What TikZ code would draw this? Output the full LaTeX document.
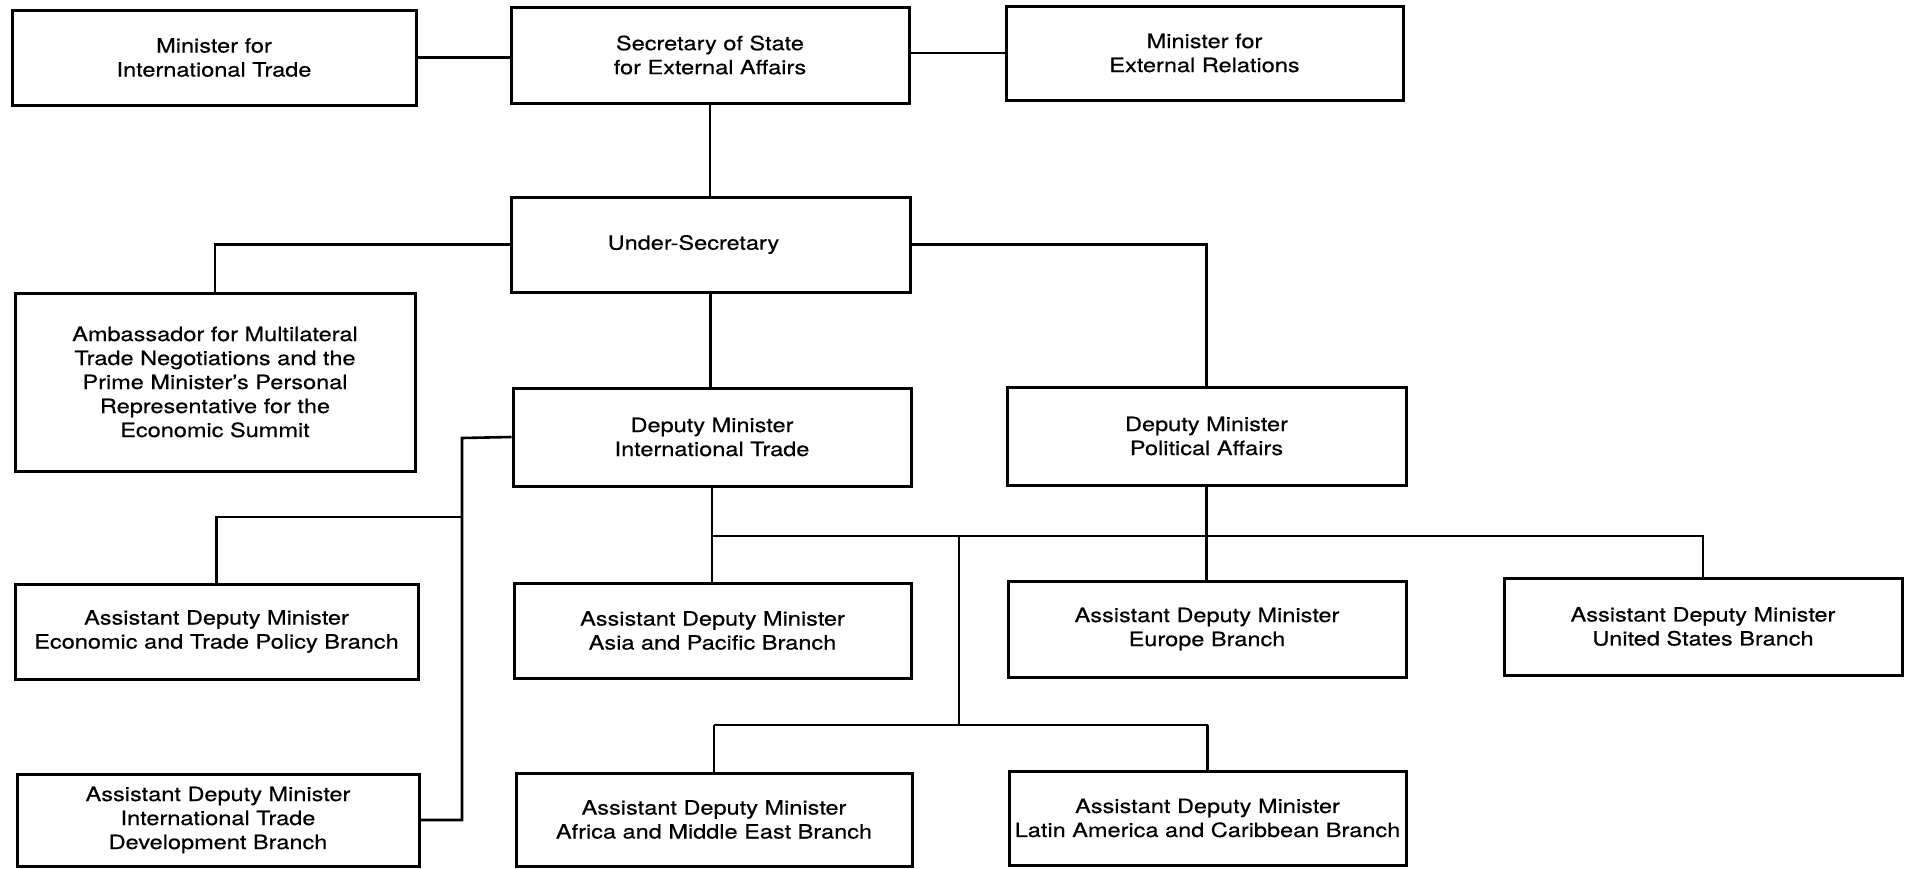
\documentclass[tikz,border=0pt]{standalone}
\usepackage{fontspec}
\setmainfont{TeX Gyre Heros}[FakeStretch=1.2, FakeBold=0.4]
\begin{document}
\begin{tikzpicture}[x=0.5pt,y=-0.5pt,
  office/.style={draw, line width=1.5pt, align=center, inner sep=0pt,
    font=\fontsize{9.8pt}{12pt}\selectfont},
  link/.style={line width=1.3pt}]
\useasboundingbox (0,0) rectangle (1912,868);

% top level
\node[office, minimum width=202pt, minimum height=47.5pt] (mit) at (214,57.5) {Minister for\\International Trade};
\node[office, minimum width=199pt, minimum height=48pt] (sos) at (710,55) {Secretary of State\\for External Affairs};
\node[office, minimum width=198.5pt, minimum height=47pt] (mer) at (1204.5,53) {Minister for\\External Relations};

% under-secretary and ambassador
\node[office, minimum width=199.5pt, minimum height=47.5pt] (usec) at (710.5,244.5) {Under-Secretary\hspace*{17pt}};
\node[office, minimum width=200pt, minimum height=89pt] (amb) at (215,382) {Ambassador for Multilateral\\Trade Negotiations and the\\Prime Minister’s Personal\\Representative for the\\Economic Summit};

% deputy ministers
\node[office, minimum width=199pt, minimum height=49pt] (dmit) at (712,437) {Deputy Minister\\International Trade};
\node[office, minimum width=199.5pt, minimum height=49pt] (dmpa) at (1206.5,436) {Deputy Minister\\Political Affairs};

% assistant deputy ministers
\node[office, minimum width=201.5pt, minimum height=47.5pt] (etp) at (216.5,631.5) {Assistant Deputy Minister\\Economic and Trade Policy Branch};
\node[office, minimum width=198.5pt, minimum height=47.5pt] (asia) at (712.5,630.5) {Assistant Deputy Minister\\Asia and Pacific Branch};
\node[office, minimum width=199pt, minimum height=48pt] (eur) at (1207,629) {Assistant Deputy Minister\\Europe Branch};
\node[office, minimum width=199pt, minimum height=48.5pt] (us) at (1703,626.5) {Assistant Deputy Minister\\United States Branch};
\node[office, minimum width=201pt, minimum height=46pt] (itd) at (218,820) {Assistant Deputy Minister\\International Trade\\Development Branch};
\node[office, minimum width=198pt, minimum height=46.5pt] (afr) at (714,819.5) {Assistant Deputy Minister\\Africa and Middle East Branch};
\node[office, minimum width=198.5pt, minimum height=47pt] (lat) at (1207.5,818) {Assistant Deputy Minister\\Latin America and Caribbean Branch};

% junction points
\coordinate (spine) at (462,438);
\coordinate (etpj) at (462,517);
\coordinate (bar) at (712,536);
\coordinate (drop) at (959,536);
\coordinate (low) at (959,725);

% connectors
\draw[link] (mit.east) -- (mit.east -| sos.west);
\draw[link] (sos.east |- mer.west) -- (mer.west);
\draw[link] (sos.south) -- (usec.north -| sos.south);
\draw[link] (usec.west) -| (amb.north);
\draw[link] (usec.east) -| (dmpa.north);
\draw[link] (usec.south) -- (usec.south |- dmit.north);
\draw[link] (dmit.west) -- (spine) |- (itd.east);
\draw[link] (etpj) -| (etp.north);
\draw[link] (dmit.south) -- (dmit.south |- asia.north);
\draw[link] (dmpa.south) -- (dmpa.south |- eur.north);
\draw[link] (bar) -| (us.north);
\draw[link] (drop) -- (low);
\draw[link] (low -| afr.north) -- (low -| lat.north);
\draw[link] (low -| afr.north) -- (afr.north);
\draw[link] (low -| lat.north) -- (lat.north);
\end{tikzpicture}
\end{document}
